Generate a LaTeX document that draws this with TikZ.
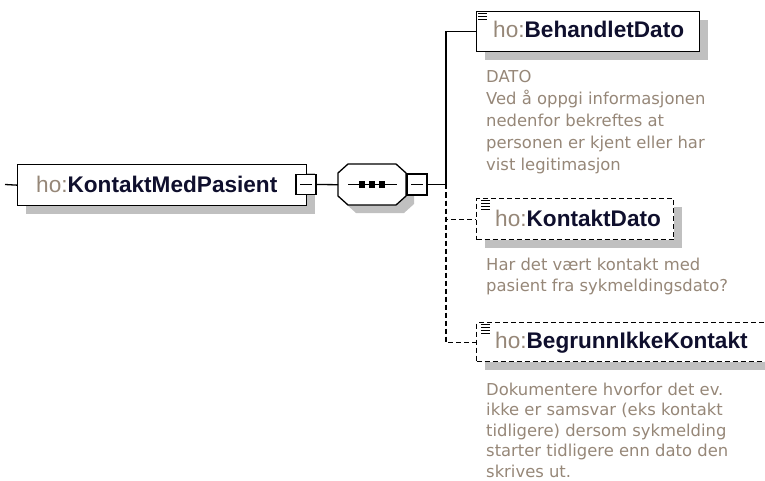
\documentclass[tikz,border=0pt]{standalone}
\usepackage{fontspec}
\setmainfont{Liberation Sans}
\newfontfamily\descfont{DejaVu Sans}
\usetikzlibrary{shadows}
\definecolor{shadowc}{RGB}{192,192,192}
\definecolor{prefixc}{RGB}{150,135,120}
\definecolor{namec}{RGB}{15,15,45}
\definecolor{descc}{RGB}{150,135,120}
\newcommand{\firststrut}{\rule{0pt}{14pt}}
\begin{document}
\begin{tikzpicture}[x=1pt,y=-1pt,
  conn/.style={draw=black,line width=1.3pt},
  dconn/.style={conn,dash pattern=on 5pt off 3pt},
  elbox/.style={draw=black,line width=1.3pt,fill=white,inner sep=0,anchor=north west,
     drop shadow={shadow xshift=8pt,shadow yshift=-8pt,fill=shadowc,opacity=1}},
  optbox/.style={elbox,dash pattern=on 5pt off 3pt},
  minusbox/.style={draw=black,line width=1.1pt,fill=white,minimum width=20,minimum height=20,inner sep=0},
  lbl/.style={anchor=base west,inner sep=0,font=\fontsize{22.6}{27}\selectfont},
  desc/.style={anchor=north west,inner sep=0,align=left,text=descc,font=\descfont\fontsize{16.4}{21.5}\selectfont},
  icon/.style={line width=1.1pt}
]
\useasboundingbox (0,0) rectangle (765,481);
\clip (0,0) rectangle (765,481);

% main element
\node[elbox,minimum width=289,minimum height=41] (main) at (17,164) {};
\node[lbl] (mainl) at (36,193) {\color{prefixc}ho:\textbf{\color{namec}KontaktMedPasient}};
\node[minusbox] (mminus) at (306,184.5) {};
\draw[line width=1.1pt] ([xshift=-6]mminus.center) -- ([xshift=6]mminus.center);
\coordinate (lead) at (5,184.5);
\draw[conn] (lead) -- (main.west);

% sequence compositor
\node[minimum width=68,minimum height=41,inner sep=0,anchor=north west] (seq) at (338,164) {};
\fill[shadowc] ([shift={(18,8)}]seq.north west) -- ([shift={(66,8)}]seq.north west) -- ([shift={(76,17)}]seq.north west)
  -- ([shift={(76,40)}]seq.north west) -- ([shift={(66,49)}]seq.north west) -- ([shift={(18,49)}]seq.north west)
  -- ([shift={(8,40)}]seq.north west) -- ([shift={(8,17)}]seq.north west) -- cycle;
\draw[line width=1.3pt,fill=white] ([shift={(10,0)}]seq.north west) -- ([shift={(58,0)}]seq.north west) -- ([shift={(68,9)}]seq.north west)
  -- ([shift={(68,32)}]seq.north west) -- ([shift={(58,41)}]seq.north west) -- ([shift={(10,41)}]seq.north west)
  -- ([shift={(0,32)}]seq.north west) -- ([shift={(0,9)}]seq.north west) -- cycle;
\draw[line width=1.3pt] ([xshift=10]seq.west) -- ([xshift=-9]seq.east);
\foreach \dx in {-10,0,10} \fill ([xshift=\dx-3.2,yshift=-3.2]seq.center) rectangle ([xshift=\dx+3.2,yshift=3.2]seq.center);
\node[minusbox,minimum height=21] (sminus) at (417,184.5) {};
\draw[line width=1.1pt] ([xshift=-6]sminus.center) -- ([xshift=6]sminus.center);
\draw[conn] (mminus.east) -- (seq.west);
\coordinate (junc) at (446,184.5);
\draw[conn] (sminus.east) -- (junc);

% child 1
\node[elbox,minimum width=223,minimum height=40] (b1) at (476,11) {};
\draw[icon] (478,13.5) -- (487,13.5) (478,16.5) -- (487,16.5) (478,19.5) -- (487,19.5);
\node[lbl] (b1l) at (493,38) {\color{prefixc}ho:\textbf{\color{namec}BehandletDato}};
\node[desc,font=\descfont\fontsize{16.4}{22}\selectfont] (d1) at (486,68) {\firststrut DATO\\Ved å oppgi informasjonen\\nedenfor bekreftes at\\personen er kjent eller har\\vist legitimasjon};
\draw[conn] (junc) |- (b1.west);

% child 2
\node[optbox,minimum width=197,minimum height=41] (b2) at (476,198) {};
\draw[icon] (481,200.5) -- (490,200.5) (481,203.5) -- (490,203.5) (481,206.5) -- (490,206.5) (481,209.5) -- (490,209.5);
\node[lbl] (b2l) at (495,226) {\color{prefixc}ho:\textbf{\color{namec}KontaktDato}};
\node[desc,font=\descfont\fontsize{16.4}{21}\selectfont] (d2) at (486,256) {\firststrut Har det vært kontakt med\\pasient fra sykmeldingsdato?};
\draw[dconn] (junc) |- (b2.west);

% child 3
\node[optbox,minimum width=300,minimum height=39] (b3) at (476,322) {};
\draw[icon] (481,324.5) -- (490,324.5) (481,327.5) -- (490,327.5) (481,330.5) -- (490,330.5) (481,333.5) -- (490,333.5);
\node[lbl] (b3l) at (495,348) {\color{prefixc}ho:\textbf{\color{namec}BegrunnIkkeKontakt}};
\node[desc,font=\descfont\fontsize{16.4}{20.5}\selectfont] (d3) at (486,381) {\firststrut Dokumentere hvorfor det ev.\\ikke er samsvar (eks kontakt\\tidligere) dersom sykmelding\\starter tidligere enn dato den\\skrives ut.};
\draw[dconn] (junc) |- (b3.west);
\end{tikzpicture}
\end{document}
